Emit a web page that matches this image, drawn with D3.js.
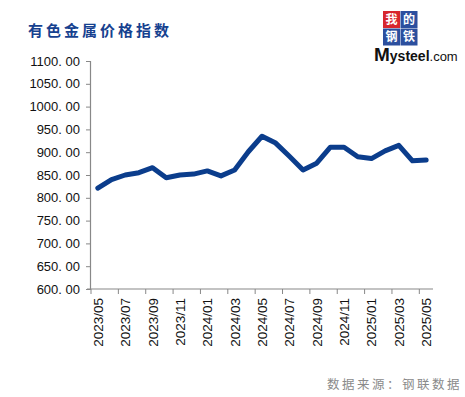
<!DOCTYPE html>
<html>
<head>
<meta charset="utf-8">
<script src="https://cdn.jsdelivr.net/npm/d3@7"></script>
<style>
  body { margin: 0; background: #fff; }
  svg { display: block; }
</style>
</head>
<body>
<div id="chart"></div>
<script>
const months = [
  "2023/05", "2023/06", "2023/07", "2023/08", "2023/09", "2023/10", "2023/11", "2023/12",
  "2024/01", "2024/02", "2024/03", "2024/04", "2024/05", "2024/06", "2024/07", "2024/08",
  "2024/09", "2024/10", "2024/11", "2024/12", "2025/01", "2025/02", "2025/03", "2025/04",
  "2025/05"
];
const indexValues = [
  821, 840, 850, 855, 866, 844, 850, 852,
  859, 848, 861, 901, 935, 920, 891, 861,
  876, 911, 911, 890, 886, 903, 915, 881,
  883
];
const yTicks = [600, 650, 700, 750, 800, 850, 900, 950, 1000, 1050, 1100];
const titleText = "有色金属价格指数";
const sourceText = "数据来源：钢联数据";

const w = 465, h = 397;
const plotLeft = 91, plotRight = 433, plotTop = 61, plotBottom = 289;

const svg = d3.select("#chart").append("svg")
  .attr("width", w)
  .attr("height", h);

const x = d3.scaleBand()
  .domain(months)
  .range([plotLeft, plotRight])
  .padding(0);

const y = d3.scaleLinear()
  .domain([600, 1100])
  .range([plotBottom, plotTop]);

const fmt = d => d3.format(".2f")(d).replace(".", ". ");

// y axis
const yAxis = d3.axisLeft(y)
  .tickValues(yTicks)
  .tickSize(4)
  .tickPadding(6)
  .tickFormat(fmt);

const yg = svg.append("g")
  .attr("transform", "translate(" + (plotLeft - 1) + ",0)")
  .call(yAxis);
yg.select(".domain").attr("stroke", "#888").attr("stroke-width", 1.2);
yg.selectAll(".tick line").attr("stroke", "#888");
yg.selectAll("text")
  .attr("fill", "#111")
  .attr("font-size", 13)
  .attr("font-family", "Liberation Sans, Arial, sans-serif");

// x axis: ticks between categories, every second one
const xg = svg.append("g").attr("class", "xaxis");
xg.append("line")
  .attr("x1", plotLeft - 4).attr("x2", plotRight)
  .attr("y1", plotBottom).attr("y2", plotBottom)
  .attr("stroke", "#888").attr("stroke-width", 1.2);

const shown = months.filter((d, i) => i % 2 == 0);

xg.selectAll(".tk")
  .data(shown)
  .enter()
  .append("line")
  .attr("x1", d => x(d))
  .attr("x2", d => x(d))
  .attr("y1", plotBottom)
  .attr("y2", plotBottom + 5)
  .attr("stroke", "#888");

xg.selectAll(".lbl")
  .data(shown)
  .enter()
  .append("text")
  .text(d => d)
  .attr("transform", d => "translate(" + (x(d) + x.bandwidth() / 2 + 5) + "," + (plotBottom + 9) + ") rotate(-90)")
  .attr("text-anchor", "end")
  .attr("font-size", 13.5)
  .attr("font-family", "Liberation Sans, Arial, sans-serif")
  .attr("fill", "#111");

// line
const line = d3.line()
  .x((d, i) => x(months[i]) + x.bandwidth() / 2)
  .y(d => y(d));

svg.append("path")
  .datum(indexValues)
  .attr("d", line)
  .attr("fill", "none")
  .attr("stroke", "#0b3d8c")
  .attr("stroke-width", 5)
  .attr("stroke-linejoin", "round")
  .attr("stroke-linecap", "round");

// title
svg.append("text")
  .text(titleText)
  .attr("x", 28)
  .attr("y", 36)
  .attr("font-size", 15)
  .attr("font-weight", 700)
  .attr("letter-spacing", 3)
  .attr("font-family", "Noto Sans CJK SC, sans-serif")
  .attr("fill", "#16418f");

// source note
svg.append("text")
  .text(sourceText)
  .attr("x", 462)
  .attr("y", 389)
  .attr("text-anchor", "end")
  .attr("font-size", 12.5)
  .attr("letter-spacing", 2.5)
  .attr("font-family", "Noto Sans CJK SC, sans-serif")
  .attr("fill", "#8a8a8a");

// logo
const logo = svg.append("g").attr("transform", "translate(383,11)");
const cells = [
  { ch: "我", cx: 0, cy: 0, bg: "#d7262e" },
  { ch: "的", cx: 1, cy: 0, bg: "#2c4f9e" },
  { ch: "钢", cx: 0, cy: 1, bg: "#2c4f9e" },
  { ch: "铁", cx: 1, cy: 1, bg: "#2c4f9e" }
];
const cs = 17.5;
logo.selectAll("rect")
  .data(cells)
  .enter()
  .append("rect")
  .attr("x", d => d.cx * cs)
  .attr("y", d => d.cy * cs)
  .attr("width", cs - 0.5)
  .attr("height", cs - 0.5)
  .attr("fill", d => d.bg);
logo.selectAll("text")
  .data(cells)
  .enter()
  .append("text")
  .text(d => d.ch)
  .attr("x", d => d.cx * cs + cs / 2 - 0.25)
  .attr("y", d => d.cy * cs + cs / 2 + 4)
  .attr("text-anchor", "middle")
  .attr("font-size", 12)
  .attr("font-weight", 700)
  .attr("font-family", "Noto Sans CJK SC, serif")
  .attr("fill", "#fff");

const brand = svg.append("text")
  .attr("x", 374)
  .attr("y", 61)
  .attr("font-family", "Liberation Sans, Arial, sans-serif")
  .attr("fill", "#111");
brand.append("tspan").text("M").attr("font-size", 19).attr("font-weight", 700);
brand.append("tspan").text("ysteel").attr("font-size", 14).attr("font-weight", 700);
brand.append("tspan").text(".com").attr("font-size", 13);
</script>
</body>
</html>
